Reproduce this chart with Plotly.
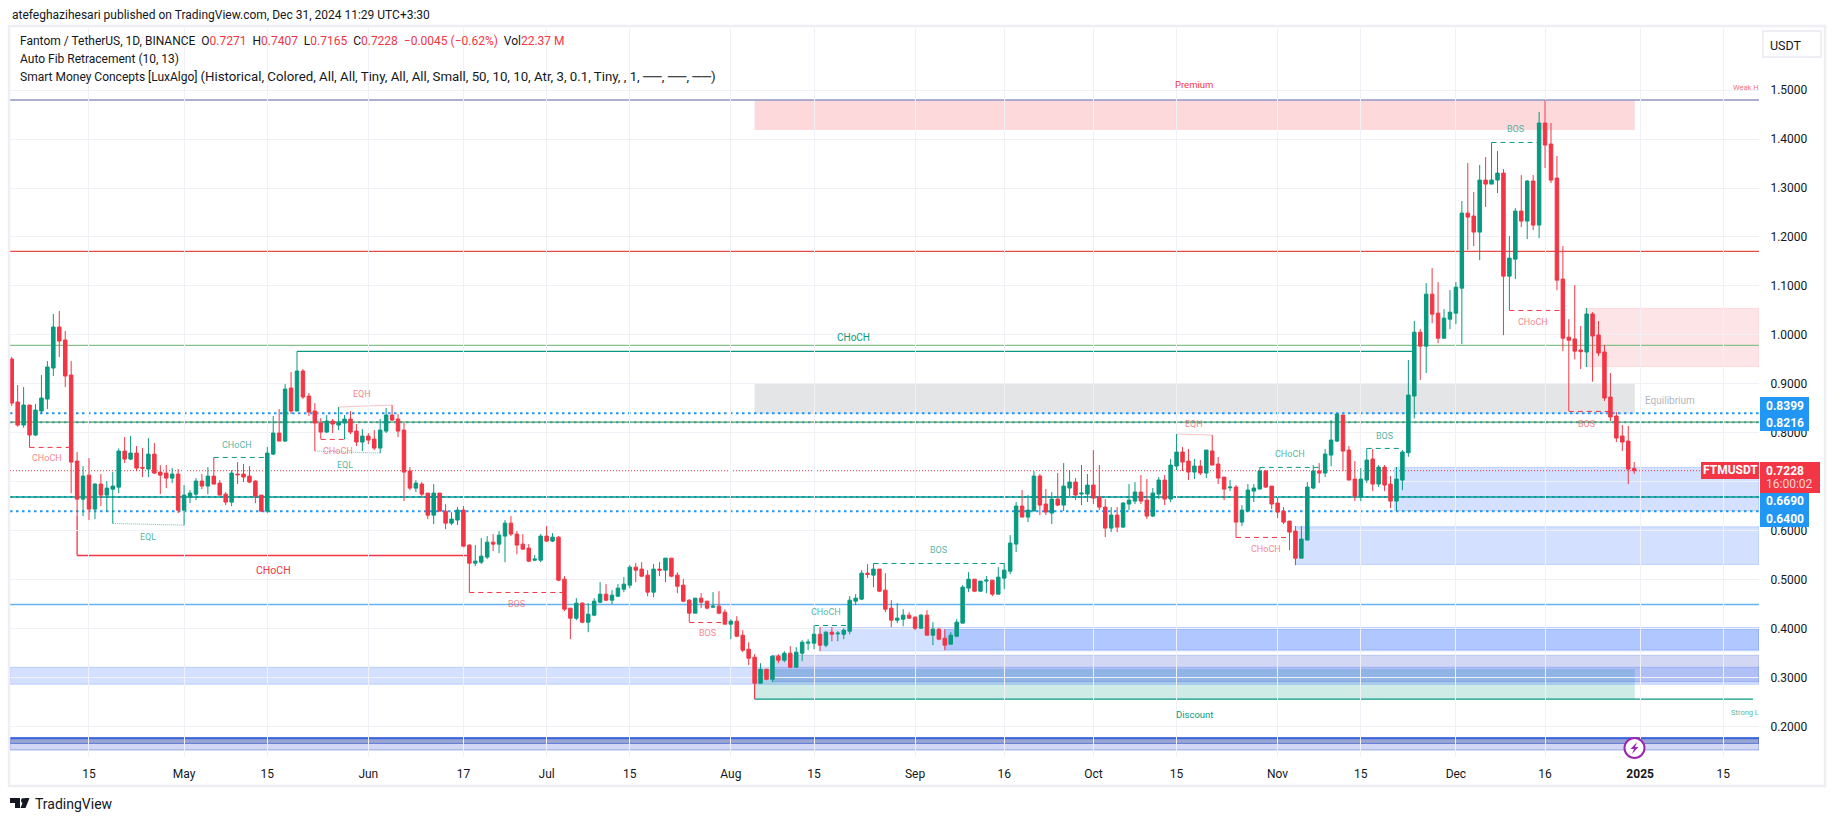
import pandas as pd
import plotly.graph_objects as go

# Daily FTM/USDT candles from 2 Apr 2024
open_ = [.9508,.8630,.8160,.8569,.7956,.8446,.8691,.9324,1.0162,.9897,
 .9181,.7425,.6648,.7138,.6444,.6955,.6730,.6852,.6893,.7629,
 .7465,.7588,.7295,.7261,.7567,.7200,.7179,.7077,.7159,.6423,
 .6689,.6750,.7016,.6914,.7118,.6975,.6750,.6587,.7159,.7159,
 .7118,.7016,.6730,.6403,.7567,.7996,.7833,.8916,.8446,.9263,
 .8752,.8446,.8201,.8017,.8242,.8160,.8201,.8283,.8037,.7813,
 .7935,.7874,.7690,.8037,.8364,.8283,.8058,.7220,.6873,.6955,
 .6771,.6321,.6771,.6403,.6158,.6220,.6424,.5709,.5341,.5361,
 .5464,.5770,.5729,.5893,.6158,.5934,.5729,.5648,.5402,.5402,
 .5893,.5791,.5872,.5014,.4422,.4217,.4524,.4136,.4279,.4544,
 .4708,.4585,.4667,.4810,.4892,.5259,.5219,.5096,.4749,.5219,
 .5198,.5443,.5096,.4892,.4585,.4320,.4626,.4565,.4442,.4463,
 .4340,.4095,.4156,.3870,.3584,.3421,.2890,.3175,.2971,.3441,
 .3359,.3502,.3216,.3502,.3707,.3707,.3890,.3666,.3931,.3897,
 .3890,.3952,.4565,.4606,.5137,.5096,.5219,.4790,.4422,.4177,
 .4197,.4279,.4238,.4013,.4279,.3870,.3993,.3809,.3686,.3850,
 .4116,.4831,.5014,.4769,.4974,.4994,.4708,.5035,.5178,.5730,
 .6506,.6281,.6404,.7119,.6547,.6363,.6649,.6526,.6874,.6996,
 .6751,.6751,.6935,.6690,.6485,.6056,.6322,.6077,.6547,.6608,
 .6792,.6628,.6302,.6751,.7037,.6649,.7323,.7609,.7425,.7200,
 .7323,.7180,.7630,.7364,.7098,.6880,.6894,.6179,.6404,.6812,
 .6853,.7221,.6914,.6567,.6404,.6199,.5995,.5443,.5811,.6874,
 .7221,.7180,.7547,.7833,.8365,.7650,.7057,.6689,.7037,.7466,
 .6955,.7302,.6955,.6608,.7037,.7595,.8753,1.0057,.9771,1.0833,
 1.0445,.9933,1.0322,1.0445,1.0956,1.2488,1.2427,1.21,1.3162,1.308,
 1.3162,1.3305,1.1201,1.1548,1.2529,1.2325,1.3142,1.2243,1.4327,1.3898,
 1.3203,1.114,.9955,.9917,.9693,.9652,1.0428,1.0,.9652,.8732,
 .8344,.7936,.7833,.7271]
high = [.955,.8977,.8936,.8569,.8589,.9181,.9467,1.0428,1.0489,1.0080,
 .9467,.7608,.7322,.7486,.6975,.7159,.7016,.7200,.7683,.7915,
 .7935,.7731,.7690,.7894,.7792,.7343,.7343,.7281,.7261,.6934,
 .6832,.7077,.7159,.7302,.7499,.7036,.6791,.7241,.7404,.7363,
 .7322,.7036,.6730,.7711,.8344,.8487,.8998,.9243,.9665,.9304,
 .8814,.8609,.8303,.8364,.8283,.8528,.8364,.8446,.8180,.8078,
 .7996,.8058,.8283,.8507,.8569,.8385,.8201,.7302,.7036,.6996,
 .6771,.6955,.6771,.6546,.6383,.6485,.6506,.5729,.5709,.5852,
 .5893,.5934,.5995,.6220,.6301,.5995,.5934,.5729,.5505,.5934,
 .6097,.5954,.5893,.5075,.4422,.4626,.4544,.4524,.4626,.4953,
 .4912,.4790,.4912,.5055,.5300,.5341,.5361,.5198,.5321,.5361,
 .5443,.5443,.5157,.5014,.4606,.4626,.4728,.4565,.4749,.4769,
 .4401,.4197,.4258,.3972,.3727,.3482,.3298,.3175,.3461,.3482,
 .3543,.3645,.3625,.3768,.3788,.4074,.4034,.3952,.4034,.3952,
 .4013,.4667,.4708,.5198,.5321,.5334,.5219,.5137,.4585,.4524,
 .4402,.4340,.4258,.4299,.4381,.4136,.4013,.3993,.3932,.4197,
 .4892,.5157,.5014,.4974,.5076,.4994,.5260,.5341,.5913,.6588,
 .6833,.6731,.7221,.7160,.6853,.6792,.7180,.7384,.7241,.7078,
 .7343,.7160,.7650,.7343,.6649,.6485,.6485,.6588,.6955,.6996,
 .7139,.7057,.6874,.7098,.7139,.7466,.7977,.7711,.7670,.7466,
 .7446,.7650,.7956,.7507,.7098,.7037,.6935,.6526,.6955,.6955,
 .7296,.7241,.6914,.6690,.6485,.6199,.6097,.6097,.6996,.7343,
 .7384,.7670,.8263,.8399,.8365,.7731,.7425,.7282,.7683,.7670,
 .7343,.7343,.7118,.7302,.7650,.9488,1.0285,1.012,1.1058,1.1364,
 1.1078,1.0527,1.0915,1.1079,1.2733,1.351,1.2917,1.3469,1.3632,1.393,
 1.3755,1.3387,1.2018,1.259,1.3264,1.3162,1.3264,1.4552,1.4797,1.4327,
 1.3653,1.1814,1.0322,1.1017,1.0183,1.0551,1.0466,1.0285,.9795,.9223,
 .8426,.816,.814,.7407]
low = [.855,.8126,.8105,.7704,.7935,.8385,.8487,.9161,.9549,.8936,
 .6771,.6301,.6301,.6219,.6240,.6505,.6403,.6151,.6771,.7384,
 .7445,.7220,.7098,.7098,.7159,.6750,.6873,.6975,.6362,.6117,
 .6566,.6628,.6852,.6750,.6955,.6730,.6526,.6505,.6955,.6996,
 .6975,.6566,.6382,.6362,.7547,.7833,.7813,.8385,.8446,.8691,
 .8344,.7629,.7874,.7996,.7996,.8058,.7867,.7976,.7731,.7629,
 .7772,.7649,.7588,.7996,.8242,.7915,.6607,.6832,.6791,.6689,
 .6240,.6137,.6403,.6035,.6117,.6117,.5668,.4742,.5280,.5321,
 .5423,.5586,.5545,.5361,.5893,.5525,.5627,.5361,.5382,.5361,
 .5770,.5770,.4973,.4360,.3788,.4176,.4115,.3931,.4258,.4524,
 .4565,.4504,.4646,.4749,.4830,.4953,.5055,.4667,.4646,.5075,
 .4953,.5055,.4728,.4544,.4136,.4320,.4422,.4401,.4422,.4299,
 .4095,.3788,.3829,.3523,.3257,.257,.2890,.2951,.2910,.3298,
 .3319,.3196,.3216,.3339,.3564,.3584,.3543,.3625,.3747,.3747,
 .3788,.3890,.4483,.4585,.5035,.4851,.4749,.4340,.4034,.4116,
 .4054,.4197,.3972,.4013,.3870,.3666,.3768,.3564,.3686,.3830,
 .4116,.4749,.4749,.4749,.4728,.4667,.4708,.4810,.5117,.5566,
 .6281,.6179,.6404,.6322,.6322,.6138,.6506,.6404,.6710,.6628,
 .6526,.6588,.6547,.6424,.5873,.5975,.5975,.6056,.6424,.6547,
 .6547,.6240,.6281,.6649,.6526,.6588,.7241,.7221,.7037,.7057,
 .7139,.7078,.7343,.6955,.6628,.6812,.5866,.6097,.6383,.6588,
 .6853,.6874,.6445,.6261,.6138,.5607,.5300,.5443,.5811,.6853,
 .6976,.7098,.7323,.7813,.7220,.7037,.6608,.6608,.6975,.6812,
 .6894,.6812,.6465,.6403,.6832,.7513,.8296,.908,.9223,1.024,
 .9832,.9933,1.0118,1.022,.9812,1.1732,1.1814,1.1528,1.2611,1.308,
 1.2897,.9996,1.0506,1.114,1.2202,1.1957,1.2141,1.1977,1.3407,1.3101,
 1.0915,.9669,.8446,.9502,.9304,.9345,.9046,.957,.8651,.8242,
 .7813,.7629,.6955,.7165]
close = [.8609,.8160,.8569,.7956,.8466,.8712,.9345,1.0162,.9876,.9161,
 .7404,.6648,.7118,.6444,.6955,.6730,.6873,.6914,.7629,.7465,
 .7588,.7281,.7281,.7567,.7179,.7138,.7077,.7159,.6423,.6730,
 .6771,.7016,.6914,.7118,.6955,.6730,.6587,.7179,.7145,.7098,
 .6996,.6709,.6403,.7588,.7996,.7833,.8895,.8446,.9263,.8732,
 .8425,.8201,.8017,.8242,.8180,.8221,.8283,.8017,.7813,.7935,
 .7853,.7690,.8058,.8364,.8262,.8037,.7200,.6873,.6975,.6750,
 .6321,.6771,.6403,.6158,.6240,.6424,.5688,.5341,.5382,.5484,
 .5770,.5729,.5913,.6158,.5934,.5709,.5627,.5382,.5423,.5893,
 .5791,.5872,.4994,.4401,.4217,.4524,.4136,.4299,.4565,.4708,
 .4585,.4687,.4830,.4912,.5259,.5198,.5075,.4749,.5219,.5198,
 .5443,.5075,.4871,.4565,.4320,.4626,.4544,.4422,.4463,.4320,
 .4095,.4156,.3850,.3564,.3400,.2890,.3175,.2971,.3441,.3359,
 .3502,.3216,.3523,.3727,.3727,.3890,.3666,.3931,.3890,.3911,
 .3972,.4585,.4626,.5137,.5110,.5219,.4769,.4401,.4177,.4218,
 .4279,.4218,.4013,.4279,.3870,.3993,.3789,.3666,.3870,.4136,
 .4851,.5014,.4769,.4974,.4994,.4708,.5055,.5198,.5750,.6506,
 .6281,.6424,.7119,.6526,.6383,.6649,.6526,.6914,.6996,.6731,
 .6771,.6935,.6669,.6485,.6056,.6322,.6077,.6567,.6628,.6792,
 .6608,.6302,.6771,.7037,.6649,.7343,.7609,.7405,.7200,.7323,
 .7180,.7650,.7343,.7078,.6853,.6894,.6179,.6424,.6833,.6874,
 .7221,.6894,.6547,.6383,.6179,.5975,.5443,.5832,.6894,.7221,
 .7180,.7568,.7854,.8385,.7629,.7037,.6710,.7057,.7445,.6955,
 .7302,.6935,.6608,.7057,.7609,.8773,1.0057,.9771,1.0833,1.0425,
 .9934,1.0343,1.0465,1.0976,1.2488,1.2406,1.21,1.3162,1.308,1.3162,
 1.3305,1.1201,1.1569,1.2529,1.2325,1.3142,1.2243,1.4327,1.3877,1.3162,
 1.1119,.9934,.9893,.9669,.9658,1.0428,.9978,.9631,.8712,.8324,
 .7895,.7813,.7261,.7228]

x_tick_dates = ["2024-04-15", "2024-05-01", "2024-05-15", "2024-06-01", "2024-06-17", "2024-07-01", "2024-07-15",
                "2024-08-01", "2024-08-15", "2024-09-01", "2024-09-16", "2024-10-01", "2024-10-15", "2024-11-01",
                "2024-11-15", "2024-12-01", "2024-12-16", "2025-01-01", "2025-01-15"]
x_tick_text = ["15", "May", "15", "Jun", "17", "Jul", "15", "Aug", "15", "Sep", "16", "Oct", "15", "Nov", "15",
               "Dec", "16", "<b>2025</b>", "15"]
y_ticks = [.2, .3, .4, .5, .6, .7, .8, .9, 1.0, 1.1, 1.2, 1.3, 1.4, 1.5]
# 0.7000 is covered by the last price badge
y_tick_text = ["0.2000", "0.3000", "0.4000", "0.5000", "0.6000", "", "0.8000", "0.9000", "1.0000", "1.1000",
               "1.2000", "1.3000", "1.4000", "1.5000"]

# Horizontal levels (price)
fib_top = 1.4797
fib_red = 1.1705
fib_light_green = .9787
fib_green = .8220
fib_teal = .6690
fib_light_blue = .4497
alert_levels = [.8399, .8216, .6690, .6400]
last_price = .7228

# Structure lines: candle index from, candle index to, price at start, price at end
choch_big_red = [11, 76.7, .5497]
choch_big_green = [48, 235.6, .9665]
dash_red_from = [3, 52, 77, 114, 206, 252, 262]
dash_red_to = [10, 56.5, 93, 120, 215, 261, 269]
dash_red_price = [.7704, .7867, .4742, .4129, .5866, 1.05, .8439]
dash_green_from = [34, 135, 145, 210, 228, 249]
dash_green_to = [43, 141, 167, 220, 234, 257]
dash_green_price = [.7499, .4068, .5334, .7296, .7683, 1.393]
eqh_from = [55, 196]
eqh_to = [64, 202]
eqh_start = [.8528, .7977]
eqh_end = [.8569, .7956]
eql_from = [17, 51]
eql_to = [29, 62]
eql_start = [.6151, .7629]
eql_end = [.6117, .7588]

# Small labels: text, candle index, price
red_labels = [("CHoCH", 5.9, .7488), ("CHoCH", 54.9, .7631), ("EQH", 59, .8795), ("BOS", 85, .4507),
              ("BOS", 117, .3915), ("EQH", 199, .8182), ("CHoCH", 211, .5630), ("CHoCH", 256, 1.0264),
              ("BOS", 265, .8182)]
green_labels = [("CHoCH", 37.9, .7753), ("EQL", 23, .5875), ("EQL", 56, .7345), ("CHoCH", 137, .4344),
                ("BOS", 156, .5610), ("CHoCH", 215, .7570), ("BOS", 231, .7937), ("BOS", 253, 1.4204)]

# Pixel frame of the price pane
PX0, PX1, PY0, PY1 = 10, 1759, 28, 757
FONT = "Roboto"
TEXT = "#131722"
RED = "#f23645"
GREEN = "#089981"
BLUE = "#2196f3"
GRID = "#f0f1f6"
FRAME = "#eeeef4"
START = pd.Timestamp("2024-04-02")
XMIN = "2024-04-01 17:00"
XMAX = "2025-01-21"


def day(i):
    return START + pd.Timedelta(days=i)


def px(x):
    return (x - PX0) / (PX1 - PX0)


def py(y):
    return (PY1 - y) / (PY1 - PY0)


dates = [day(i) for i in range(len(close))]

fig = go.Figure(go.Candlestick(
    x=dates, open=open_, high=high, low=low, close=close,
    increasing=dict(line=dict(color=GREEN, width=1), fillcolor=GREEN),
    decreasing=dict(line=dict(color=RED, width=1), fillcolor=RED),
    whiskerwidth=0, showlegend=False, hoverinfo="skip"))


def zone(x0, x1, lo, hi, fill, edge=None):
    fig.add_shape(type="rect", xref="x", yref="y", x0=x0, x1=x1, y0=lo, y1=hi, fillcolor=fill,
                  line=dict(color=edge or "rgba(0,0,0,0)", width=1), layer="below")


def level(y, color, width=1, dash="solid", x0=XMIN, x1=XMAX, y1=None):
    fig.add_shape(type="line", xref="x", yref="y", x0=x0, x1=x1, y0=y, y1=y if y1 is None else y1,
                  line=dict(color=color, width=width, dash=dash), layer="below")


OB_BLUE = "rgba(41,98,255,0.2)"
OB_EDGE = "rgba(41,98,255,0.22)"
NAVY = "rgba(48,79,200,0.22)"

# Fib / premium / discount zones
zone(day(125), day(273.1), 1.4184, fib_top, "rgba(242,54,69,0.19)")
zone(day(125), day(273.1), .8385, .8998, "rgba(120,123,134,0.2)")
zone(day(125), day(273.1), .2565, .3180, "rgba(8,153,129,0.2)")

# Order blocks, all running to the right edge
zone(day(264.7), XMAX, .9352, 1.0544, "rgba(242,54,69,0.13)", "rgba(242,54,69,0.1)")
zone(day(232.7), XMAX, .6410, .7295, OB_BLUE, OB_EDGE)
zone(day(216), XMAX, .5314, .6083, OB_BLUE, OB_EDGE)
zone(day(136), XMAX, .3550, .4027, OB_BLUE, OB_EDGE)
zone(day(157), XMAX, .3578, .3986, OB_BLUE, OB_EDGE)
zone(day(128), XMAX, .2921, .3460, NAVY, NAVY)
zone(XMIN, XMAX, .2868, .3215, OB_BLUE, OB_EDGE)
zone(XMIN, XMAX, .1526, .1770, NAVY, "rgba(48,79,200,0.4)")
zone(XMIN, XMAX, .1660, .1770, "rgba(70,90,160,0.4)", "rgba(40,80,210,0.6)")
level(.1765, "#3a63dc", 2)

for y in alert_levels:
    level(y, BLUE, 2, "2.5px,3.5px")
level(last_price, RED, 1, "1px,2px")
level(fib_top, "#9097c3", 1.5)
level(fib_red, "#ea4b49", 1.3)
level(fib_light_green, "#88c08c", 1.3)
level(fib_green, "#5aa65a", 1.3)
level(fib_teal, "#0c9a8a", 1.6)
level(fib_light_blue, "#63b3f0", 1.3)

level(.2565, GREEN, 1.3, x0=day(125), x1=day(293))
level(.2565, RED, 1, x0=day(125), x1=day(125), y1=.2890)
level(choch_big_red[2], RED, 1.3, x0=day(choch_big_red[0]), x1=day(choch_big_red[1]))
level(choch_big_red[2], RED, 1.3, x0=day(choch_big_red[0]), x1=day(choch_big_red[0]), y1=.6301)
level(choch_big_green[2], GREEN, 1.3, x0=day(choch_big_green[0]), x1=day(choch_big_green[1]))

for a, b, p in zip(dash_red_from, dash_red_to, dash_red_price):
    level(p, RED, 1, "5px,4px", day(a), day(b))
for a, b, p in zip(dash_green_from, dash_green_to, dash_green_price):
    level(p, GREEN, 1, "5px,4px", day(a), day(b))
for a, b, p, q in zip(eqh_from, eqh_to, eqh_start, eqh_end):
    level(p, "rgba(242,54,69,0.6)", 1, "1px,1px", day(a), day(b), q)
for a, b, p, q in zip(eql_from, eql_to, eql_start, eql_end):
    level(p, "rgba(8,153,129,0.6)", 1, "1px,1px", day(a), day(b), q)


def note(text, x, y, color=TEXT, size=12, anchor="center", xref="x", yref="y", opacity=None, valign="middle",
         family=FONT):
    fig.add_annotation(text=text, x=x, y=y, xref=xref, yref=yref, showarrow=False, xanchor=anchor, yanchor=valign,
                       font=dict(family=family, size=size, color=color), opacity=opacity, align="left")


def screen(text, x, y, **kw):
    note(text, px(x), py(y), xref="paper", yref="paper", **kw)


for t, i, p in red_labels:
    note(t, day(i), p, RED, 9, opacity=0.6)
for t, i, p in green_labels:
    note(t, day(i), p, GREEN, 9, opacity=0.7)
note("CHoCH", day(141.7), .9957, GREEN, 10)
note("CHoCH", day(44), .52, RED, 10.5)
note("Premium", day(199), 1.5113, RED, 9.5)
note("Discount", day(199), .226, GREEN, 9.5)
note("Equilibrium", day(279), .8671, "#b2b5be", 10)
screen("Weak H", PX1 + 2, 88, color=RED, size=7.5, anchor="right", opacity=0.7)
screen("Strong L", PX1 + 2, 712, color=GREEN, size=7.5, anchor="right", opacity=0.7)


def rect_px(x0, y0, x1, y1, fill="rgba(0,0,0,0)", line=None, width=0, layer="above"):
    fig.add_shape(type="rect", xref="paper", yref="paper", x0=px(x0), x1=px(x1), y0=py(y0), y1=py(y1),
                  fillcolor=fill, line=dict(color=line or "rgba(0,0,0,0)", width=width), layer=layer)


def path_px(points, fill):
    d = "M" + " L".join(f"{px(x):.5f},{py(y):.5f}" for x, y in points) + " Z"
    fig.add_shape(type="path", xref="paper", yref="paper", path=d, fillcolor=fill, line=dict(width=0), layer="above")


# Outer frame, USDT button
rect_px(9, 26, 1825, 786, line=FRAME, width=2.5)
rect_px(1763, 31, 1821, 57, fill="white", line=FRAME, width=2)
screen("USDT", 1786, 45, size=12.5)

# Price scale badges
badge_text = ["0.8399", "0.8216", "0.6690", "0.6400"]
badge_top = [397, 414, 493, 510]
rect_px(1760, 462, 1820, 493, fill=RED)
rect_px(1701, 462, 1759, 479, fill=RED)
for t, top in zip(badge_text, badge_top):
    rect_px(1760, top, 1809, top + 17, fill=BLUE)
    screen(f"<b>{t}</b>", 1785, top + 8.5, color="white", size=12)
screen("<b>0.7228</b>", 1785, 471, color="white", size=12)
screen("16:00:02", 1789.5, 484, color="#fbd3d6", size=12)
screen("<b>FTMUSDT</b>", 1730, 470.5, color="white", size=12)

# Lightning marker on the time scale
fig.add_shape(type="circle", xref="paper", yref="paper", x0=px(1624.5), x1=px(1644.5), y0=py(758), y1=py(738),
              fillcolor="white", line=dict(color="#9c27b0", width=2), layer="above")
bolt = [(1637, 742), (1630.5, 749), (1634, 749), (1632, 754), (1638.5, 747), (1635, 747)]
path_px(bolt, "#9c27b0")

# Header and indicator legend
screen("atefeghazihesari published on TradingView.com, Dec 31, 2024 11:29 UTC+3:30", 10, 15, size=12, anchor="left")
v = lambda s: f'<span style="color:{RED}">{s}</span>'
screen(f"Fantom / TetherUS, 1D, BINANCE  O{v('0.7271')}  H{v('0.7407')}  L{v('0.7165')}  C{v('0.7228')}  "
       f"{v('−0.0045 (−0.62%)')}  Vol{v('22.37 M')}", 18, 41, size=12, anchor="left")
screen("Auto Fib Retracement (10, 13)", 18, 59, size=12, anchor="left")
screen('Smart Money Concepts [LuxAlgo] <span style="font-size:13.25px">(Historical, Colored, All, All, Tiny, All, All, '
       'Small, 50, 10, 10, Atr, 3, 0.1, Tiny, , 1, ──, ──, ──)</span>', 18, 76, size=12, anchor="left")

# TradingView logo
path_px([(10, 798), (20, 798), (20, 808), (15, 808), (15, 803), (10, 803)], TEXT)
path_px([(29.5, 798), (25.5, 808), (20.5, 808), (24.5, 798)], TEXT)
fig.add_shape(type="circle", xref="paper", yref="paper", x0=px(21), x1=px(25), y0=py(803), y1=py(798),
              fillcolor=TEXT, line=dict(width=0), layer="above")
screen("TradingView", 33, 803.5, size=14, anchor="left")

fig.update_layout(
    width=1835, height=821, autosize=False, plot_bgcolor="white", paper_bgcolor="white",
    margin=dict(l=PX0, r=1835 - PX1, t=PY0, b=821 - PY1, pad=0), boxgap=0.16, hovermode=False,
    font=dict(family=FONT, size=12, color=TEXT), showlegend=False,
    xaxis=dict(type="date", range=[XMIN, XMAX], rangeslider=dict(visible=False), tickvals=x_tick_dates,
               ticktext=x_tick_text, tickangle=0, showgrid=True, gridcolor=GRID, gridwidth=1, zeroline=False,
               showline=False, ticks="outside", ticklen=6, tickcolor="rgba(0,0,0,0)"),
    yaxis=dict(side="right", range=[.1383, 1.6267], tickvals=y_ticks, ticktext=y_tick_text, showgrid=True,
               gridcolor=GRID, gridwidth=1, zeroline=False, showline=False, ticks="outside", ticklen=8,
               tickcolor="rgba(0,0,0,0)"))

fig.write_html("out.html", config=dict(displayModeBar=False),
               post_script="document.body.style.margin='0';document.body.style.overflow='hidden';")
